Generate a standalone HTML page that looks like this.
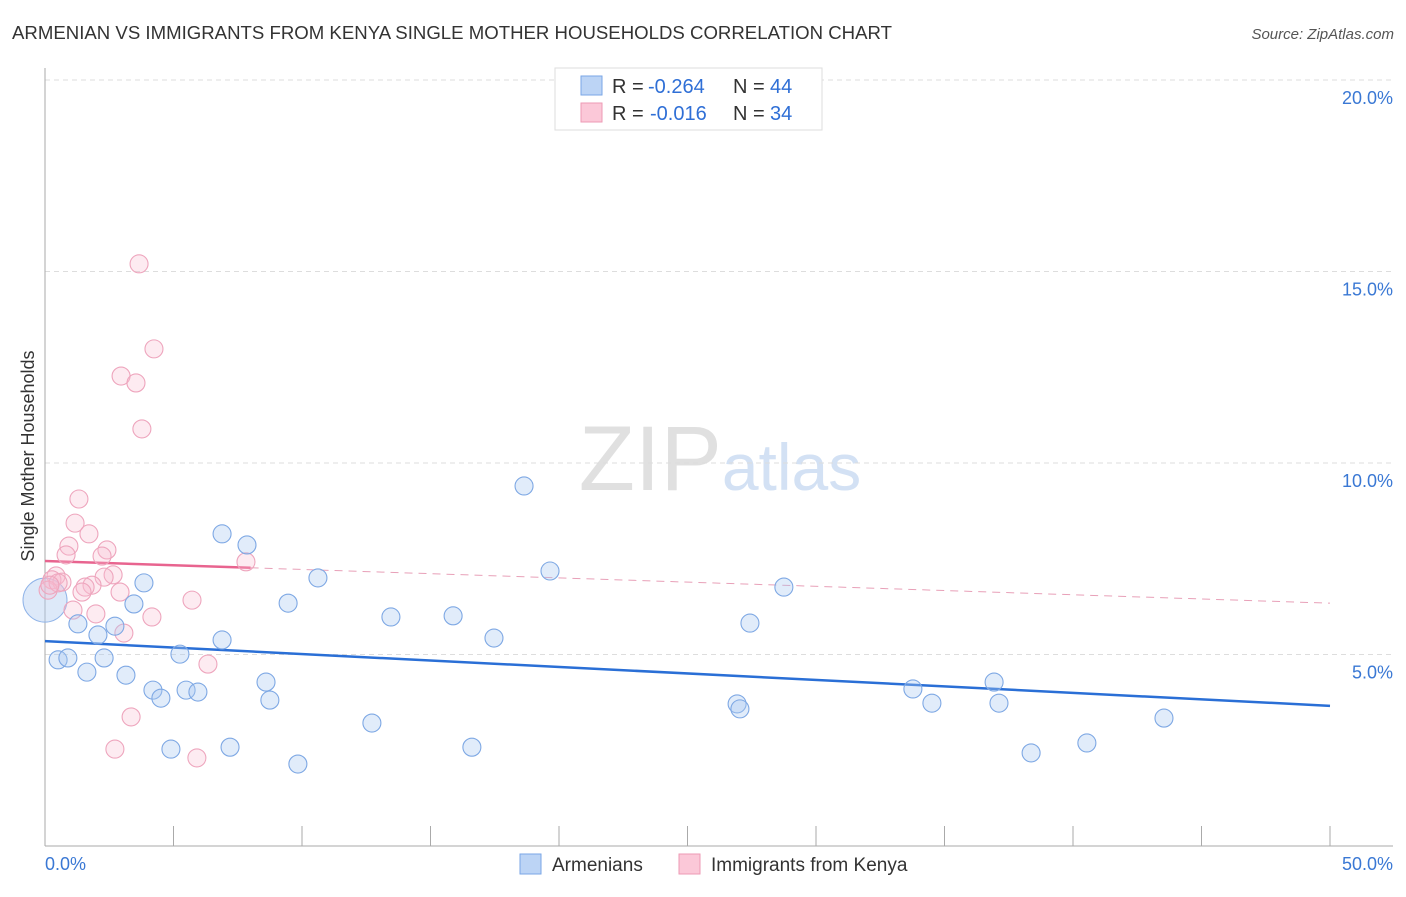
<!DOCTYPE html>
<html><head><meta charset="utf-8"><style>
body{margin:0;background:#fff;font-family:"Liberation Sans",sans-serif}
svg text{font-family:"Liberation Sans",sans-serif}
</style></head><body>
<svg id="chart" width="1406" height="892" xmlns="http://www.w3.org/2000/svg">
<text x="12" y="39" font-size="18.5" fill="#333" textLength="880" lengthAdjust="spacingAndGlyphs">ARMENIAN VS IMMIGRANTS FROM KENYA SINGLE MOTHER HOUSEHOLDS CORRELATION CHART</text>
<text x="1394" y="39" font-size="15" fill="#555" text-anchor="end" font-style="italic">Source: ZipAtlas.com</text>
<text x="720" y="490" font-size="92" text-anchor="middle" font-family="Liberation Serif"><tspan fill="#e0e0e0">ZIP</tspan><tspan fill="#d3e1f4" font-family="Liberation Sans" font-size="66">atlas</tspan></text>
<g id="grid"></g><g id="axes"></g><g id="trends"></g><g id="points"></g>
<text transform="translate(34,456) rotate(-90)" font-size="18" fill="#333" text-anchor="middle">Single Mother Households</text>
<g>
<rect x="555" y="68" width="267" height="62" fill="#fff" stroke="#ddd"/>
<rect x="581" y="76" width="21" height="19" fill="#bcd4f5" stroke="#7aa6e6"/>
<rect x="581" y="103" width="21" height="19" fill="#fbc8d8" stroke="#ee9ab4"/>
<text x="612" y="93" font-size="20" fill="#333">R =</text><text x="648" y="93" font-size="20" fill="#2f6fd6">-0.264</text>
<text x="733" y="93" font-size="20" fill="#333">N =</text><text x="770" y="93" font-size="20" fill="#2f6fd6">44</text>
<text x="612" y="120" font-size="20" fill="#333">R =</text><text x="650" y="120" font-size="20" fill="#2f6fd6">-0.016</text>
<text x="733" y="120" font-size="20" fill="#333">N =</text><text x="770" y="120" font-size="20" fill="#2f6fd6">34</text>
</g>
<g>
<rect x="520" y="854" width="21" height="20" fill="#bcd4f5" stroke="#7aa6e6"/>
<text x="552" y="871" font-size="19" fill="#333">Armenians</text>
<rect x="679" y="854" width="21" height="20" fill="#fbc8d8" stroke="#ee9ab4"/>
<text x="711" y="871" font-size="19" fill="#333">Immigrants from Kenya</text>
</g>
</svg>
<script>
const yTicks=[5,10,15,20];
const yTickLabels=["5.0%","10.0%","15.0%","20.0%"];
const xTicks=[0,5,10,15,20,25,30,35,40,45,50];
const armX=[0.51,0.89,1.28,1.63,2.06,2.30,2.72,3.15,3.46,3.85,4.20,4.51,4.90,5.25,5.49,5.95,6.89,6.89,7.20,7.86,8.60,8.75,9.46,9.84,10.62,12.72,13.46,15.88,16.61,17.47,18.64,19.65,26.93,27.04,27.43,28.75,33.77,34.51,36.93,37.12,38.37,40.54,43.54];
const armY=[4.86,4.91,5.80,4.54,5.51,4.91,5.74,4.46,6.32,6.87,4.07,3.86,2.53,5.01,4.07,4.02,8.15,5.38,2.58,7.86,4.28,3.81,6.34,2.14,7.00,3.21,5.98,6.01,2.58,5.43,9.40,7.18,3.71,3.58,5.82,6.76,4.10,3.73,4.28,3.73,2.43,2.69,3.34];
const kenX=[3.66,4.24,2.96,3.54,3.77,1.32,1.17,1.71,0.93,0.82,2.41,2.22,7.82,2.65,2.30,0.43,0.27,0.66,1.83,1.56,2.92,0.12,1.44,5.72,1.09,1.98,4.16,3.07,6.34,3.35,2.72,5.91,0.51,0.19];
const kenY=[15.20,12.98,12.27,12.09,10.89,9.06,8.43,8.15,7.83,7.60,7.73,7.57,7.42,7.08,7.02,7.05,6.95,6.89,6.81,6.76,6.63,6.68,6.63,6.42,6.16,6.06,5.98,5.56,4.75,3.37,2.53,2.30,6.87,6.81];
const armTrend=[5.35,3.66];
const kenTrend=[7.44,6.34];
const NS="http://www.w3.org/2000/svg";
const X=v=>45+v*25.7, Y=v=>846-v*38.3;
function mk(t,a,p){const e=document.createElementNS(NS,t);for(const k in a)e.setAttribute(k,a[k]);document.getElementById(p).appendChild(e);return e;}
yTicks.forEach((t,i)=>{
 const g=mk('line',{x1:45,x2:1393,y1:Y(t),y2:Y(t),stroke:'#ddd','stroke-dasharray':'5,4'},'grid');
 
 
 const l=mk('text',{x:1393,y:Y(t)+24,'font-size':18,fill:'#3a78d4','text-anchor':'end'},'axes');
 l.textContent=yTickLabels[i];
 
 
});
let a=mk('line',{x1:45,x2:45,y1:68,y2:846,stroke:'#aaa'},'axes');


a=mk('line',{x1:45,x2:1393,y1:846,y2:846,stroke:'#aaa'},'axes');


xTicks.forEach(t=>{const e=mk('line',{x1:X(t),x2:X(t),y1:826,y2:846,stroke:'#aaa'},'axes');
 
 });
let t=mk('text',{x:45,y:870,'font-size':18,fill:'#3a78d4'},'axes');t.textContent='0.0%';


t=mk('text',{x:1393,y:870,'font-size':18,fill:'#3a78d4','text-anchor':'end'},'axes');t.textContent='50.0%';


let tr=mk('line',{x1:X(0),x2:X(50),y1:Y(armTrend[0]),y2:Y(armTrend[1]),stroke:'#2a6fd6','stroke-width':2.5},'trends');


const kY=x=>kenTrend[0]+(kenTrend[1]-kenTrend[0])*x/50;
tr=mk('line',{x1:X(0),x2:X(8),y1:Y(kY(0)),y2:Y(kY(8)),stroke:'#e8648f','stroke-width':2.5},'trends');


tr=mk('line',{x1:X(8),x2:X(50),y1:Y(kY(8)),y2:Y(kY(50)),stroke:'#e8a0b8','stroke-width':1,'stroke-dasharray':'8,6'},'trends');


let big=mk('circle',{cx:X(0),cy:Y(6.42),r:22,fill:'rgba(170,200,240,0.4)',stroke:'#8fb3e8','stroke-width':1},'points');


kenX.forEach((x,i)=>{const c=mk('circle',{cx:X(x),cy:Y(kenY[i]),r:9,fill:'rgba(248,190,208,0.3)',stroke:'#eea5bd','stroke-width':1.1},'points');
 
 });
armX.forEach((x,i)=>{const c=mk('circle',{cx:X(x),cy:Y(armY[i]),r:9,fill:'rgba(170,200,240,0.35)',stroke:'#7ea8e4','stroke-width':1.1},'points');
 
 });
</script>
</body></html>
